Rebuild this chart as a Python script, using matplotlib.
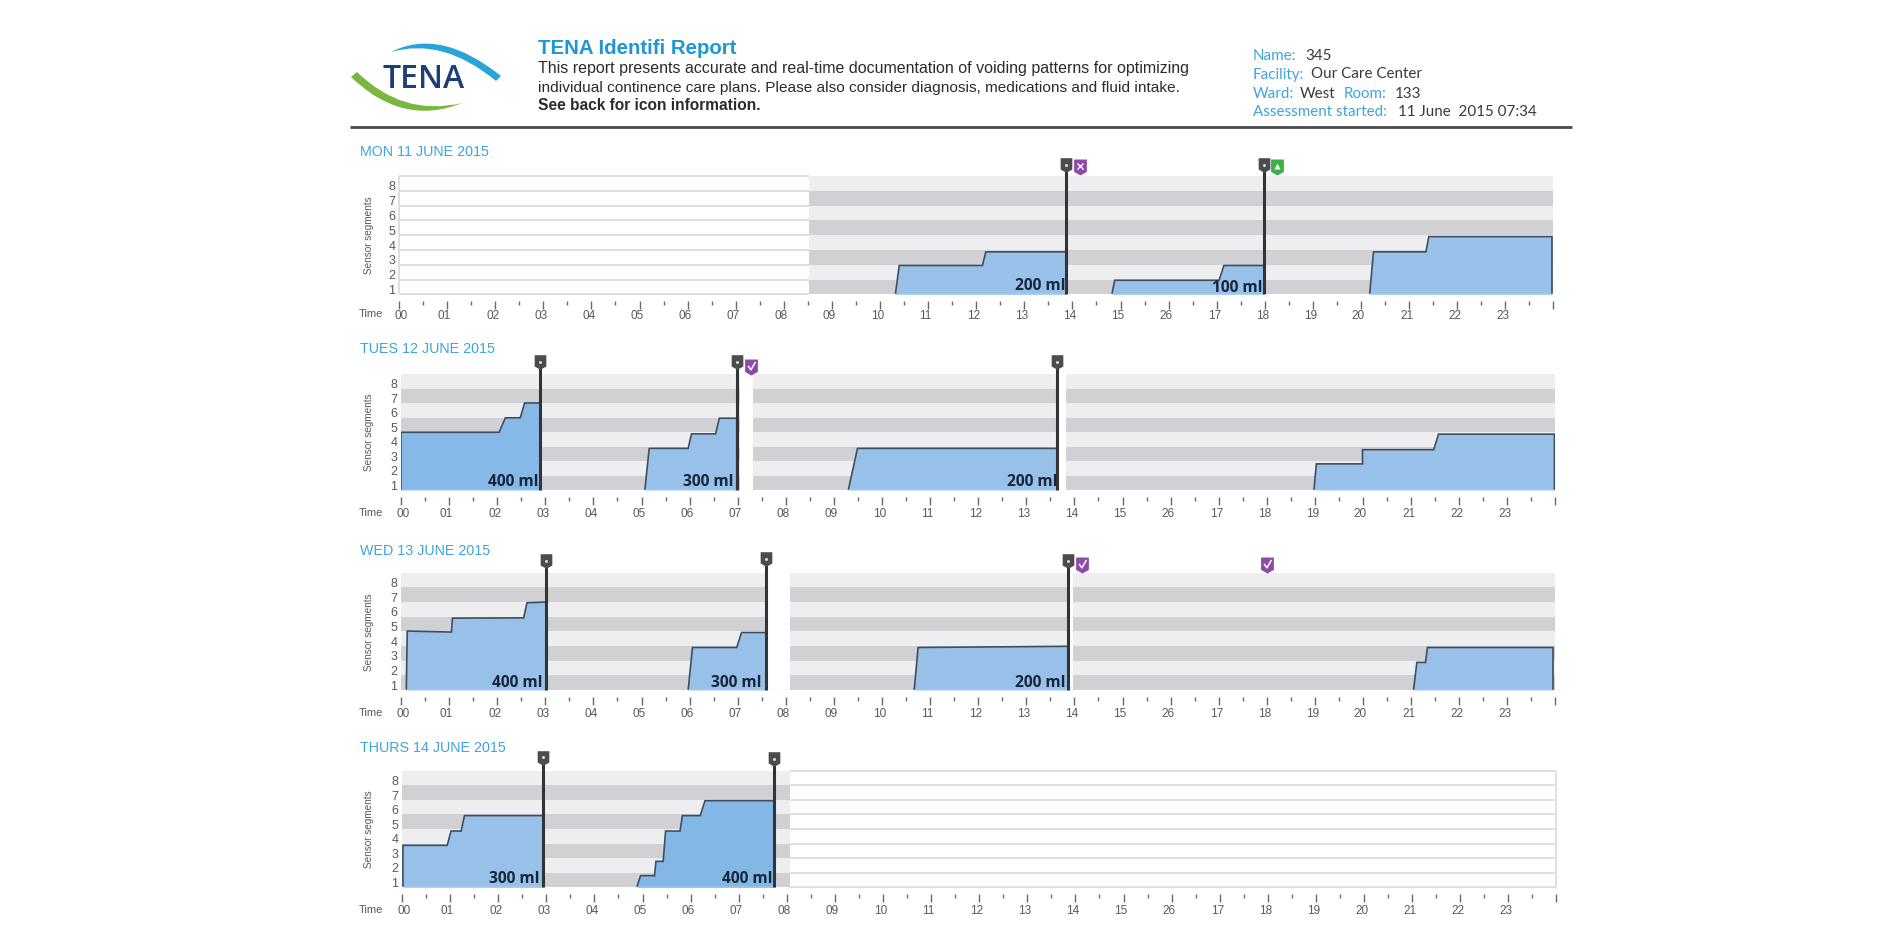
import matplotlib
matplotlib.use("Agg")
import matplotlib.pyplot as plt
import numpy as np
from matplotlib.patches import PathPatch
from matplotlib.path import Path
from matplotlib.transforms import ScaledTranslation

W, H = 1900, 950
NARROW = "Liberation Sans"
SOFT = "Lato"

hour_labels = ["00","01","02","03","04","05","06","07","08","09","10","11","12","13","14","15",
               "26","17","18","19","20","21","22","23"]
seg_labels = ["1","2","3","4","5","6","7","8"]
day_titles = ["MON 11 JUNE 2015","TUES 12 JUNE 2015","WED 13 JUNE 2015","THURS 14 JUNE 2015"]

mon_hours = [[10.32,10.40,12.13,12.20,13.87],[14.82,14.88,17.05,17.15,17.98],[20.18,20.26,21.35,21.41,23.97]]
mon_levels = [[0,1.95,1.95,2.87,2.87],[0,0.95,0.95,1.95,1.95],[0,2.87,2.87,3.9,3.9]]
tue_hours = [[0.0,0.0,2.04,2.17,2.48,2.57,2.90],[5.07,5.16,5.97,6.04,6.54,6.62,6.98],[9.30,9.49,13.64],[18.98,19.03,19.99,19.99,21.47,21.57,23.98]]
tue_levels = [[0,3.98,3.98,4.98,4.98,6.0,6.0],[0,2.87,2.87,3.87,3.87,4.95,4.95],[0,2.87,2.87],[0,1.8,1.8,2.78,2.78,3.85,3.85]]
wed_hours = [[0.11,0.13,1.05,1.07,2.55,2.62,3.02],[5.97,6.06,6.98,7.08,7.59],[10.67,10.75,13.87],[21.05,21.12,21.30,21.34,23.95]]
wed_levels = [[0,4.02,3.95,4.9,4.92,5.95,6.0],[0,2.9,2.9,3.92,3.92],[0,2.9,2.98],[0,1.88,1.88,2.9,2.9]]
thu_hours = [[0.02,0.02,0.94,1.02,1.23,1.30,2.94],[4.88,4.96,5.25,5.28,5.43,5.48,5.78,5.83,6.20,6.30,7.74]]
thu_levels = [[0,2.88,2.88,3.86,3.86,4.92,4.92],[0,0.8,0.8,1.78,1.78,3.86,3.86,4.92,4.92,5.94,5.94]]
all_hours = [mon_hours, tue_hours, wed_hours, thu_hours]
all_levels = [mon_levels, tue_levels, wed_levels, thu_levels]

fill_colors = [["#97c1e8"]*3, ["#86b9e8","#97c1e8","#97c1e8","#97c1e8"], ["#97c1e8"]*4, ["#97c1e8","#82b7e6"]]

void_hours = [[13.87,17.98],[2.90,6.98,13.64],[3.02,7.59,13.87],[2.94,7.74]]
void_tops = [[8.74,8.74],[8.83,8.83,8.83],[8.8,8.92,8.8],[8.89,8.8]]

ml_hours = [[13.33,17.42],[2.33,6.38,13.12],[2.42,6.98,13.3],[2.34,7.17]]
ml_levels = [[0.58,0.43],[0.58,0.58,0.58],[0.5,0.5,0.5],[0.57,0.57]]
ml_labels = [["200 ml","100 ml"],["400 ml","300 ml","200 ml"],["400 ml","300 ml","200 ml"],["300 ml","400 ml"]]

badge_hours = [[14.16,18.25],[7.28],[14.15,18.0],[]]
badge_levels = [[8.63,8.63],[8.5],[8.53,8.53],[]]
badge_kinds = [["x","bell"],["check"],["check","check"],[]]

blank_spans = [[(0,8.52)],[],[],[(8.06,24)]]
gap_spans = [[],[(7.05,7.31),(13.64,13.83)],[(7.64,8.08),(13.89,13.98)],[]]

panel_x0 = [399,401,401,402]
panel_top = [176,374,572.7,770.7]
panel_bot = [294.3,490,690,887.3]
HOUR_PX = 48.1
title_y = [152.2,349.2,551.2,748.2]
hour_pad = [0.3,2.0,2.0,2.0]
time_off = [19.5,23,23,23]

BAND_DARK, BAND_LIGHT = "#d1d1d5", "#eeeef0"
LINE = "#3f4d5e"
VOID = "#333438"
PURPLE, GREEN = "#8e4aa8", "#3fae49"
SKY2 = "#3fa4dc"
TXT = "#58595b"

fig = plt.figure(figsize=(W/100, H/100), dpi=100, facecolor="white")
bg = fig.add_axes([0,0,1,1])
bg.set_xlim(0,W); bg.set_ylim(H,0); bg.axis("off")

# ---- header
bg.plot([350,1572],[127.3,127.3],color="#4a4a4c",lw=2.0,solid_capstyle="butt")
def curve(pts,color):
    codes=[Path.MOVETO,Path.CURVE3,Path.CURVE3,Path.LINETO,Path.CURVE3,Path.CURVE3]
    bg.add_patch(PathPatch(Path(pts,codes),fc=color,ec="none"))
curve([(391,52),(440,27),(501,76),(496,81),(443,37),(391,52)],"#2aa3da")
curve([(351,77),(403,127),(462,103),(462,103),(403,117),(357,72)],"#7ab73f")
bg.text(423.5,79,"TENA",color="#1c3f75",fontsize=23,fontweight="semibold",family="Open Sans",ha="center",va="center")

bg.text(538,48,"TENA Identifi Report",color="#1f97d4",fontsize=14.7,fontweight="bold",family=NARROW,va="center")
for y,s,w,fs in [(69,"This report presents accurate and real-time documentation of voiding patterns for optimizing","normal",11.5),
              (88,"individual continence care plans. Please also consider diagnosis, medications and fluid intake.","normal",11.09),
              (105,"See back for icon information.","bold",11.2)]:
    bg.text(538,y,s,color="#2b2b2d",fontsize=fs,fontweight=w,family=NARROW,va="center")
for x,y,s,c in [(1253,56,"Name:",SKY2),(1305,56,"345","#3a3a3c"),
                (1253,74.5,"Facility:",SKY2),(1311,74.5,"Our Care Center","#3a3a3c"),
                (1253,93.5,"Ward:",SKY2),(1299.5,93.5,"West","#3a3a3c"),(1344,93.5,"Room:",SKY2),(1395,93.5,"133","#3a3a3c"),
                (1253,111.5,"Assessment started:",SKY2),(1397.5,111.5,"11 June  2015 07:34","#3a3a3c")]:
    bg.text(x,y,s,color=c,fontsize=10.9,family=SOFT,va="center")

# ---- panels
s_x,s_y=.8,1.0
shield=Path([(-s_x,s_y),(s_x,s_y),(s_x,-.55),(0,-s_y),(-s_x,-.55),(-s_x,s_y)],closed=True)
check=Path([(-.6,.1),(-.1,-.6),(.7,.8)],[Path.MOVETO,Path.LINETO,Path.LINETO])

for i in range(4):
    x0,top,bot=panel_x0[i],panel_top[i],panel_bot[i]
    ax=fig.add_axes([x0/W,1-bot/H,24*HOUR_PX/W,(bot-top)/H])
    ax.set_xlim(0,24); ax.set_ylim(0,8)
    ax.patch.set_alpha(0)
    for s in ax.spines.values(): s.set_visible(False)
    ax.spines["bottom"].set_position(("outward",4.8))
    for k in range(8):
        ax.axhspan(k,k+1,color=BAND_DARK if k%2==0 else BAND_LIGHT,lw=0,zorder=1)
    for a,b in blank_spans[i]:
        ax.axvspan(a,b,color="white",lw=0,zorder=2)
        ax.hlines(np.arange(0,9),a,b,color="#dfdfe2",lw=1.4,zorder=2.5,clip_on=False)
        ax.vlines([a if a==0 else b],0,8,color="#dfdfe2",lw=1.4,zorder=2.5,clip_on=False)
    for a,b in gap_spans[i]:
        ax.axvspan(a,b,color="white",lw=0,zorder=2)
    for hs,ls,c in zip(all_hours[i],all_levels[i],fill_colors[i]):
        hs=np.array(hs); ls=np.array(ls)
        ax.fill_between(hs,0,ls,color=c,lw=0,zorder=3)
        ax.plot(np.r_[hs,hs[-1]],np.r_[ls,0],color=LINE,lw=1.2,zorder=4,solid_joinstyle="miter")
    ax.axhline(0,color="#d5e6f5",lw=1,zorder=4.5)
    for h,t in zip(void_hours[i],void_tops[i]):
        ax.plot([h,h],[0,t],color=VOID,lw=2.2,zorder=6,clip_on=False,solid_capstyle="butt")
        ax.plot([h],[t],marker=shield,ms=10.5,mfc="#4b4c50",mec="none",zorder=7,clip_on=False)
        ax.plot([h],[t+.03],marker="o",ms=2.2,mfc="#d8d8d8",mec="none",zorder=8,clip_on=False)
    for h,l,s in zip(ml_hours[i],ml_levels[i],ml_labels[i]):
        ax.text(h,l,s,color="#16263d",fontsize=11.2,fontweight="bold",family="Open Sans",ha="center",va="center",zorder=5)
    for h,l,k in zip(badge_hours[i],badge_levels[i],badge_kinds[i]):
        col=GREEN if k=="bell" else PURPLE
        ax.plot([h],[l],marker=shield,ms=11.5,mfc=col,mec="none",zorder=7,clip_on=False)
        if k=="check":
            ax.plot([h],[l+.05],marker=check,ms=6.5,mfc="none",mec="white",mew=1.1,zorder=8,clip_on=False)
        elif k=="x":
            ax.plot([h],[l+.05],marker="x",ms=4.5,mec="white",mew=1.0,zorder=8,clip_on=False)
        else:
            ax.plot([h],[l+.05],marker="^",ms=4.5,mfc="white",mec="none",zorder=8,clip_on=False)
    ax.set_xticks(np.arange(0,25)); ax.set_xticks(np.arange(.5,24,1),minor=True)
    ax.set_xticklabels(hour_labels+[""],family=NARROW,fontsize=8.5,color=TXT)
    ax.tick_params(axis="x",which="major",length=6,width=1,color="#6a6a6c",pad=hour_pad[i])
    ax.tick_params(axis="x",which="minor",length=3,width=1,color="#6a6a6c")
    for j,lab in enumerate(ax.get_xticklabels()):
        dx=(2.5 if j==0 else -2.5)/100
        lab.set_transform(lab.get_transform()+ScaledTranslation(dx,0,fig.dpi_scale_trans))
    ax.set_yticks(np.arange(.5,8.5)); ax.set_yticklabels(seg_labels,family=NARROW,fontsize=9,color=TXT)
    ax.tick_params(axis="y",length=0,pad=2.5)
    for lab in ax.get_yticklabels():
        lab.set_transform(lab.get_transform()+ScaledTranslation(0,-2.5/100,fig.dpi_scale_trans))
    bg.text(369.5,(top+bot)/2+.5,"Sensor segments",rotation=90,family=NARROW,fontsize=7.2,color=TXT,ha="center",va="center")
    bg.text(371,bot+time_off[i],"Time",family=NARROW,fontsize=8,color=TXT,ha="center",va="center")
    bg.text(359.5,title_y[i],day_titles[i],color=SKY2,fontsize=10.3,family="Liberation Sans",va="center")

fig.savefig("out.png",dpi=100,facecolor="white")
